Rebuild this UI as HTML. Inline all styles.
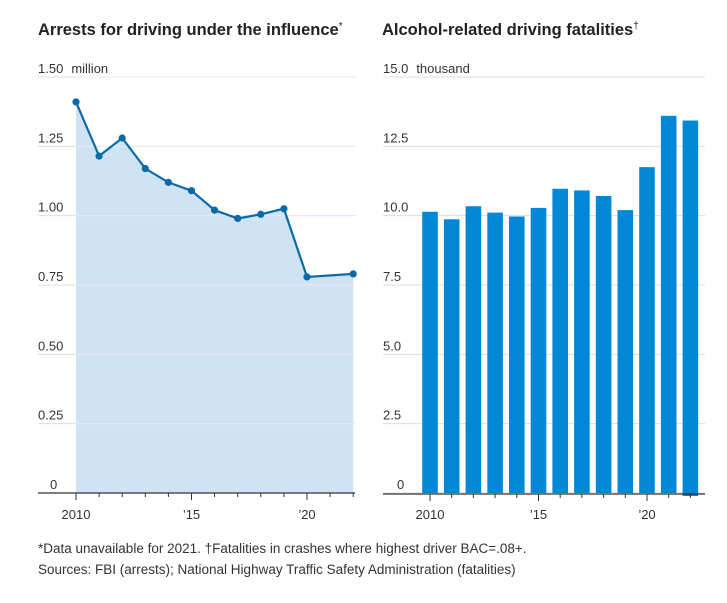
<!DOCTYPE html>
<html><head><meta charset="utf-8"><style>
body{margin:0;background:#fff;font-family:"Liberation Sans",sans-serif;}
svg text{font-family:"Liberation Sans",sans-serif;}
</style></head><body>
<svg width="727" height="598" viewBox="0 0 727 598">
<text x="38" y="35" font-size="16.5" font-weight="bold" fill="#222">Arrests for driving under the influence<tspan font-size="10" font-weight="normal" dy="-6">*</tspan></text>
<text x="382" y="35" font-size="16.5" font-weight="bold" fill="#222">Alcohol-related driving fatalities<tspan font-size="10" font-weight="normal" dy="-6">†</tspan></text>
<g id="left"></g>
<g id="right"></g>
<text x="38" y="553" font-size="13.5" fill="#333">*Data unavailable for 2021. †Fatalities in crashes where highest driver BAC=.08+.</text>
<text x="38" y="574" font-size="13.5" fill="#333">Sources: FBI (arrests); National Highway Traffic Safety Administration (fatalities)</text>
</svg>
<script>
const arrestYears=[2010,2011,2012,2013,2014,2015,2016,2017,2018,2019,2020,2022];
const arrestVals=[1.41,1.215,1.28,1.17,1.12,1.09,1.02,0.99,1.005,1.025,0.779,0.79];
const arrestTicks=["0","0.25","0.50","0.75","1.00","1.25","1.50"];
const fatYears=[2010,2011,2012,2013,2014,2015,2016,2017,2018,2019,2020,2021,2022];
const fatVals=[10.14,9.87,10.34,10.11,9.97,10.28,10.97,10.91,10.71,10.2,11.75,13.6,13.43];
const fatTicks=["0","2.5","5.0","7.5","10.0","12.5","15.0"];
const xLabels=["2010","’15","’20"];
const NS="http://www.w3.org/2000/svg";
function mk(p,t,a){const e=document.createElementNS(NS,t);for(const k in a)e.setAttribute(k,a[k]);p.appendChild(e);return e;}
const y0=493,y1=77;
const ly=v=>y0-(v/1.5)*(y0-y1);
const lx=yr=>76+(yr-2010)*23.1;
const ry=v=>y0-(v/15)*(y0-y1);
const rx=yr=>430+(yr-2010)*21.7;
const L=document.getElementById('left'),R=document.getElementById('right');
function unitLabel(tx,unit){const s=document.createElementNS(NS,'tspan');s.setAttribute('dx','8');s.textContent=unit;tx.appendChild(s);}
arrestTicks.forEach((t,i)=>{const v=i*0.25,y=ly(v);
 const g=mk(L,'line',{x1:38,x2:355,y1:y,y2:y,stroke:'#ddd','stroke-width':1});
 
 const tx=mk(L,'text',{x:i==0?50:38,y:y-4,'font-size':13,fill:'#333'});tx.textContent=t;if(i==6)unitLabel(tx,'million');
 });
let d='M'+lx(arrestYears[0])+','+y0;
arrestYears.forEach((yr,i)=>d+=' L'+lx(yr)+','+ly(arrestVals[i]));
d+=' L'+lx(arrestYears[arrestYears.length-1])+','+y0+'Z';
const area=mk(L,'path',{d:d,fill:'#cfe3f5'});

arrestTicks.forEach((t,i)=>{if(i==0)return;const y=ly(i*0.25);const g=mk(L,'line',{x1:lx(2010),x2:lx(2022),y1:y,y2:y,stroke:'#e4eef8','stroke-width':1});
 });
const ax=mk(L,'line',{x1:38,x2:355,y1:y0,y2:y0,stroke:'#333','stroke-width':1.2});

const line=mk(L,'polyline',{points:arrestYears.map((yr,i)=>lx(yr)+','+ly(arrestVals[i])).join(' '),fill:'none',stroke:'#0a6aa6','stroke-width':2.2});

arrestYears.forEach((yr,i)=>{const c=mk(L,'circle',{cx:lx(yr),cy:ly(arrestVals[i]),r:3.6,fill:'#0a6aa6'});
 });
for(let yr=2010;yr<=2022;yr++){const t=mk(L,'line',{x1:lx(yr),x2:lx(yr),y1:y0,y2:y0+(yr%5==0?7:4),stroke:'#333'});
 }
[2010,2015,2020].forEach((yr,i)=>{const t=mk(L,'text',{x:lx(yr),y:519,'font-size':13,fill:'#333','text-anchor':'middle'});t.textContent=xLabels[i];
 });
fatTicks.forEach((t,i)=>{const y=ry(i*2.5);
 const g=mk(R,'line',{x1:383,x2:705,y1:y,y2:y,stroke:'#ddd','stroke-width':1});
 
 const tx=mk(R,'text',{x:i==0?397:383,y:y-4,'font-size':13,fill:'#333'});tx.textContent=t;if(i==6)unitLabel(tx,'thousand');
 });
fatYears.forEach((yr,i)=>{const top=ry(fatVals[i]);const b=mk(R,'rect',{x:rx(yr)-7.8,y:top,width:15.6,height:y0-top+(yr==2022?3:0),fill:'#0088d6'});
 });
const ax2=mk(R,'line',{x1:383,x2:705,y1:y0+1,y2:y0+1,stroke:'#333','stroke-width':1.2});

for(let yr=2010;yr<=2022;yr++){const t=mk(R,'line',{x1:rx(yr),x2:rx(yr),y1:y0+1,y2:y0+(yr%5==0?8:5),stroke:'#333'});
 }
[2010,2015,2020].forEach((yr,i)=>{const t=mk(R,'text',{x:rx(yr),y:519,'font-size':13,fill:'#333','text-anchor':'middle'});t.textContent=xLabels[i];
 });
</script>
</body></html>
